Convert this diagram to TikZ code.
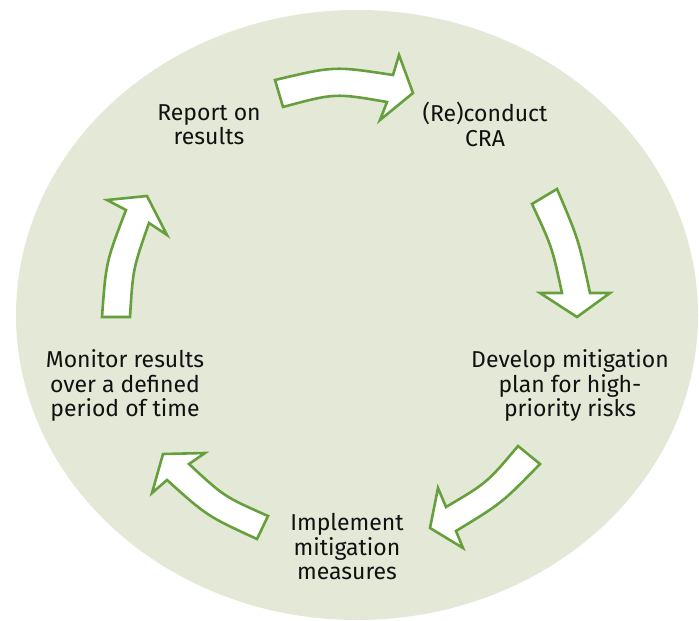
\documentclass[tikz,border=0pt]{standalone}
\usepackage{fontspec}
\setmainfont{Fira Sans}
\definecolor{bgfill}{HTML}{E4E8D7}
\definecolor{arrowgreen}{HTML}{66A03C}
\definecolor{txt}{HTML}{111111}
\tikzset{
  blockarrow/.style={draw=arrowgreen, fill=white, line width=2.6pt, line join=miter},
  steplabel/.style={align=center, text=txt, font=\fontsize{23}{24.5}\selectfont, inner sep=0pt}
}
\begin{document}
\begin{tikzpicture}[x=1pt,y=-1pt]
\useasboundingbox (0,0) rectangle (699,621);
\begin{scope}
\clip (0,0) rectangle (699,621);
\fill[bgfill] (357,315) ellipse [x radius=341, y radius=305];
\end{scope}
% arrows
\draw[blockarrow] (275,80) .. controls (334,66) .. (393,75) -- (399,55) -- (413,93) -- (380,120) -- (387,102) .. controls (335,93) .. (283,107) -- cycle;
\draw[blockarrow] (557,189) .. controls (578.5,239.3) .. (590,293) -- (610,293) -- (577,317) -- (540,293) -- (562,293) .. controls (552,246.8) .. (532,204) -- cycle;
\draw[blockarrow] (540,464) .. controls (502,503) .. (456,531) -- (463,548) -- (430,528) -- (438,488) -- (446,507) .. controls (487,482.8) .. (518,446) -- cycle;
\draw[blockarrow] (268,516) -- (257,539) .. controls (207,516) .. (167,480) -- (152,493) -- (163,454) -- (205,453) -- (189,464) .. controls (224,496.5) .. (268,516) -- cycle;
\draw[blockarrow] (102,317) .. controls (106,262) .. (126,210) -- (107,200) -- (147,196) -- (167,235) -- (149,223) .. controls (133,268.6) .. (130,317) -- cycle;
% labels
\node[steplabel] (report) at (209,124.5) {Report on\\results};
\node[steplabel] (cra) at (485,124.5) {(Re)conduct\\CRA};
\node[steplabel] (develop) at (570,385.5) {Develop mitigation\\plan for high-\\priority risks};
\node[steplabel] (implement) at (347,547) {Implement\\mitigation\\measures};
\node[steplabel] (monitor) at (125,385.5) {Monitor results\\over a defined\\period of time};
\end{tikzpicture}
\end{document}
